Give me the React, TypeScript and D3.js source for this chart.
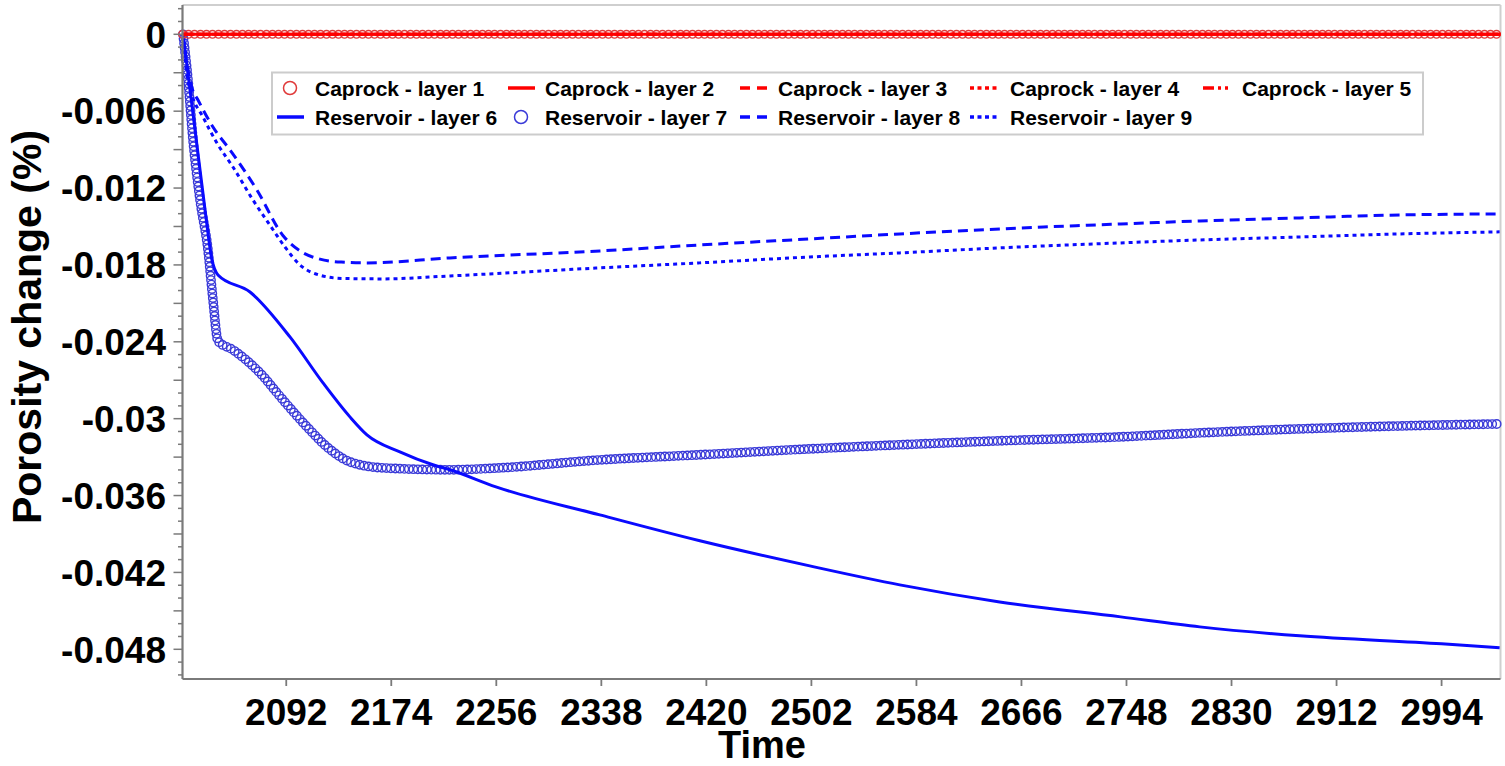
import React, { useEffect, useRef } from "react";
import * as d3 from "d3";

// ---- data ----
const xTickValues = [2092, 2174, 2256, 2338, 2420, 2502, 2584, 2666, 2748, 2830, 2912, 2994];
const yLabelValues = [0, -0.006, -0.012, -0.018, -0.024, -0.03, -0.036, -0.042, -0.048];
const yLabelText = ["0", "-0.006", "-0.012", "-0.018", "-0.024", "-0.03", "-0.036", "-0.042", "-0.048"];

const caprockTime = [2011, 2300, 2600, 2900, 3040];
const caprock1 = [0, 0, 0, 0, 0];
const caprock2 = [0, 0, 0, 0, 0];
const caprock3 = [0, 0, 0, 0, 0];
const caprock4 = [0, 0, 0, 0, 0];
const caprock5 = [0, 0, 0, 0, 0];

const res6Time = [2011.4, 2020.8, 2028.6, 2034.0, 2038.7, 2063.7, 2094.9, 2120.7, 2141.7, 2155.0, 2180.7, 2206.5, 2219.8, 2255.7, 2336.8, 2414.9, 2500.7, 2571.0, 2649.0, 2743.5, 2805.2, 2883.2, 2994.0, 3039.3];
const res6 = [0, -0.00747, -0.0137, -0.01761, -0.01878, -0.02011, -0.02362, -0.02721, -0.02986, -0.03126, -0.03259, -0.0336, -0.03399, -0.03532, -0.03751, -0.03953, -0.04149, -0.04297, -0.0443, -0.04547, -0.04625, -0.04695, -0.04757, -0.04788];

const res7Time = [2011.4, 2015.3, 2019.2, 2024.7, 2030.9, 2034.8, 2038.7, 2050.4, 2071.5, 2089.4, 2108.2, 2123.8, 2141.7, 2167.5, 2219.8, 2258.8, 2336.8, 2414.9, 2500.7, 2571.0, 2649.0, 2743.5, 2805.2, 2883.2, 2961.2, 3039.3];
const res7 = [0, -0.00357, -0.00825, -0.01293, -0.01683, -0.02073, -0.02393, -0.02463, -0.02643, -0.02853, -0.03064, -0.0322, -0.03337, -0.03384, -0.03399, -0.03384, -0.03322, -0.03282, -0.03236, -0.03204, -0.03173, -0.03142, -0.03111, -0.0308, -0.03057, -0.03041];

const res8Time = [2011.4, 2015.3, 2018.4, 2023.1, 2034.8, 2048.1, 2069.1, 2089.4, 2102.7, 2118.3, 2135.0, 2155.0, 2219.8, 2336.8, 2414.9, 2500.7, 2571.0, 2649.0, 2743.5, 2805.2, 2883.2, 2961.2, 3039.3];
const res8 = [0, -0.00281, -0.00419, -0.00513, -0.00724, -0.00903, -0.01215, -0.01570, -0.01690, -0.01755, -0.01778, -0.01784, -0.01745, -0.01691, -0.01644, -0.01597, -0.01558, -0.01519, -0.0148, -0.01457, -0.01433, -0.0141, -0.01402];

const res9Time = [2011.4, 2014.5, 2018.4, 2027.0, 2037.9, 2050.4, 2066.0, 2079.3, 2091.0, 2102.7, 2118.3, 2135.0, 2167.5, 2219.8, 2336.8, 2414.9, 2500.7, 2571.0, 2649.0, 2743.5, 2805.2, 2883.2, 2961.2, 3039.3];
const res9 = [0, -0.00318, -0.00474, -0.00646, -0.00849, -0.01036, -0.01293, -0.01490, -0.01660, -0.01800, -0.01880, -0.01905, -0.01909, -0.01886, -0.01823, -0.01784, -0.01738, -0.01706, -0.01667, -0.01628, -0.01605, -0.01582, -0.01558, -0.01542];

const legendLabels = [
  "Caprock - layer 1", "Caprock - layer 2", "Caprock - layer 3", "Caprock - layer 4", "Caprock - layer 5",
  "Reservoir - layer 6", "Reservoir - layer 7", "Reservoir - layer 8", "Reservoir - layer 9",
];

// ---- styles ----
const RED = "#ff0000";
const BLUE = "#0a0aff";
const BLUE_CIRCLE = "#3a3ad8";
const RED_CIRCLE = "#e03a3a";
const FONT = "'Liberation Sans', Arial, Helvetica, sans-serif";

type Style = { kind: "circle" | "line"; color: string; dash?: string; legendDash?: string };
const styles: Style[] = [
  { kind: "circle", color: RED_CIRCLE },
  { kind: "line", color: RED },
  { kind: "line", color: RED, dash: "10 6", legendDash: "10 7" },
  { kind: "line", color: RED, dash: "4 4", legendDash: "4 3.5" },
  { kind: "line", color: RED, dash: "11 4 3 4 3 4", legendDash: "11 4 3 4 3 4" },
  { kind: "line", color: BLUE },
  { kind: "circle", color: BLUE_CIRCLE },
  { kind: "line", color: BLUE, dash: "10 6", legendDash: "10 7" },
  { kind: "line", color: BLUE, dash: "4 4", legendDash: "4 3.5" },
];

const W = 1505, H = 766;
const L = 182.5, R = 1500.5, T = 5, B = 679;

export default function App() {
  const ref = useRef<SVGSVGElement>(null);

  const x = d3.scaleLinear().domain([2011, 3040]).range([L, R]);
  const y = d3.scaleLinear().domain([0, -0.048]).range([34.3, 649.3]);

  const series: { t: number[]; v: number[] }[] = [
    { t: caprockTime, v: caprock1 },
    { t: caprockTime, v: caprock2 },
    { t: caprockTime, v: caprock3 },
    { t: caprockTime, v: caprock4 },
    { t: caprockTime, v: caprock5 },
    { t: res6Time, v: res6 },
    { t: res7Time, v: res7 },
    { t: res8Time, v: res8 },
    { t: res9Time, v: res9 },
  ];

  const line = d3
    .line<[number, number]>()
    .x((d) => x(d[0]))
    .y((d) => y(d[1]))
    .curve(d3.curveMonotoneX);

  const paths = series.map((s) => line(s.t.map((t, i) => [t, s.v[i]] as [number, number])) || "");

  useEffect(() => {
    document.body.style.margin = "0";
    const svg = d3.select(ref.current);
    svg.selectAll("g.markers").remove();
    svg.selectAll<SVGPathElement, unknown>("path.marker-path").each(function () {
      const p = this as SVGPathElement;
      const color = p.getAttribute("data-color") || "#000";
      const step = Number(p.getAttribute("data-step") || 5);
      const r = Number(p.getAttribute("data-r") || 4);
      const len = p.getTotalLength();
      const pts: { x: number; y: number }[] = [];
      for (let l = 0; l <= len; l += step) {
        const pt = p.getPointAtLength(l);
        pts.push({ x: pt.x, y: pt.y });
      }
      const g = d3.select(p.parentNode as SVGGElement).insert("g", () => p).attr("class", "markers");
      g.selectAll("circle")
        .data(pts)
        .join("circle")
        .attr("cx", (d) => d.x)
        .attr("cy", (d) => d.y)
        .attr("r", r)
        .attr("fill", "none")
        .attr("stroke", color)
        .attr("stroke-width", 1.4);
    });
  }, []);

  const minorTicks = d3.range(2, -51, -1).map((k) => k / 1000);

  const legendColX = [277, 508, 740, 970, 1203];
  const legendTextX = [315, 545, 778, 1010, 1242];
  const legendRowY = [88, 117];

  const drawOrder = [6, 5, 7, 8, 0, 1, 2, 3, 4];

  return (
    <svg ref={ref} width={W} height={H} style={{ position: "absolute", left: 0, top: 0, background: "#fff" }} fontFamily={FONT}>
      <rect x={0} y={0} width={W} height={H} fill="#fff" />
      {/* frame */}
      <line x1={L} y1={T} x2={R} y2={T} stroke="#cfcfcf" strokeWidth={2} />
      <line x1={R} y1={T} x2={R} y2={B} stroke="#cfcfcf" strokeWidth={2} />

      {/* series */}
      <g>
        {drawOrder.map((i) => {
          const st = styles[i];
          if (st.kind === "circle") {
            return (
              <path
                key={i}
                className="marker-path"
                d={paths[i]}
                fill="none"
                stroke="none"
                data-color={st.color}
                data-step={i === 0 ? 6 : 4.5}
                data-r={i === 0 ? 3.8 : 4.2}
              />
            );
          }
          return (
            <path
              key={i}
              d={paths[i]}
              fill="none"
              stroke={st.color}
              strokeWidth={3}
              strokeDasharray={st.dash}
            />
          );
        })}
      </g>

      {/* axes */}
      <line x1={L} y1={T} x2={L} y2={B} stroke="#7a7a7a" strokeWidth={2.2} />
      <line x1={L} y1={B} x2={R} y2={B} stroke="#7a7a7a" strokeWidth={2.2} />
      {minorTicks.map((v, i) => {
        const major = Math.round(v * 1000) % 3 === 0;
        return (
          <line key={i} x1={L - (major ? 9 : 4.5)} x2={L} y1={y(v)} y2={y(v)} stroke="#7a7a7a" strokeWidth={1.5} />
        );
      })}
      {yLabelValues.map((v, i) => (
        <text key={i} x={166} y={y(v)} dy="0.36em" textAnchor="end" fontSize={37} fontWeight="bold" fill="#000">
          {yLabelText[i]}
        </text>
      ))}
      {xTickValues.map((t) => (
        <g key={t}>
          <line x1={x(t)} x2={x(t)} y1={B} y2={B + 7} stroke="#7a7a7a" strokeWidth={1.8} />
          <text x={x(t)} y={725} textAnchor="middle" fontSize={37} fontWeight="bold" fill="#000">
            {t}
          </text>
        </g>
      ))}
      <text x={762} y={758} textAnchor="middle" fontSize={38} fontWeight="bold" fill="#000">
        Time
      </text>
      <text
        transform={`translate(41, 327) rotate(-90)`}
        textAnchor="middle"
        fontSize={41}
        fontWeight="bold"
        fill="#000"
      >
        Porosity change (%)
      </text>

      {/* legend */}
      <rect x={272} y={72.5} width={1151} height={62} fill="#fff" stroke="#cccccc" strokeWidth={2} />
      {legendLabels.map((lab, i) => {
        const row = i < 5 ? 0 : 1;
        const col = i < 5 ? i : i - 5;
        const st = styles[i];
        const sx = legendColX[col];
        const cy = legendRowY[row];
        return (
          <g key={lab}>
            {st.kind === "circle" ? (
              <circle cx={sx + 13} cy={cy} r={6.5} fill="none" stroke={st.color} strokeWidth={1.5} />
            ) : (
              <line x1={sx} x2={sx + 27} y1={cy} y2={cy} stroke={st.color} strokeWidth={3.5} strokeDasharray={st.legendDash} />
            )}
            <text x={legendTextX[col]} y={cy} dy="0.36em" fontSize={21} fontWeight="bold" fill="#000">
              {lab}
            </text>
          </g>
        );
      })}
    </svg>
  );
}
